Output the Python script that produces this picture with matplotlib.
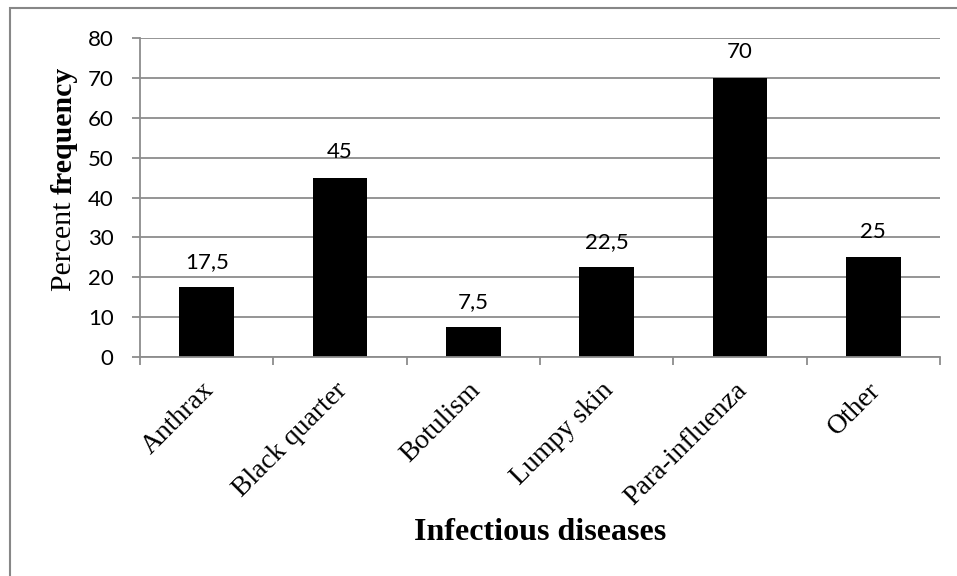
import matplotlib
matplotlib.use("Agg")
import matplotlib.pyplot as plt
from matplotlib.patches import Rectangle

categories = ["Anthrax", "Black quarter", "Botulism", "Lumpy skin", "Para-influenza", "Other"]
values = [17.5, 45, 7.5, 22.5, 70, 25]
value_labels = ["17,5", "45", "7,5", "22,5", "70", "25"]
yticks = [0, 10, 20, 30, 40, 50, 60, 70, 80]

W, H = 957, 576
fig = plt.figure(figsize=(W / 100, H / 100), dpi=100)
fig.patch.set_facecolor("white")

# outer chart frame
frame = Rectangle((10 / W, -0.05), 1.2, (576 - 8) / H + 0.05, transform=fig.transFigure,
                  fill=False, edgecolor="#878787", linewidth=1.5)
fig.patches.append(frame)

ax = fig.add_axes([140 / W, 1 - 357 / H, 800 / W, (357 - 38) / H])
grid_c = "#8c8c8c"
x = list(range(len(categories)))
ax.bar(x, values, width=0.41, color="black", zorder=3)
ax.set_xlim(-0.5, len(categories) - 0.5)
ax.set_ylim(0, 80)
ax.set_yticks(yticks)
ax.yaxis.grid(True, color=grid_c, linewidth=1.3, zorder=0)
for s in ["top", "right"]:
    ax.spines[s].set_visible(False)
for s in ["left", "bottom"]:
    ax.spines[s].set_color(grid_c)
    ax.spines[s].set_linewidth(1.3)
    ax.spines[s].set_zorder(4)

tick_font = "Lato"
ax.tick_params(axis="y", length=6, width=1.3, color=grid_c, labelsize=16, pad=13)
for lab in ax.get_yticklabels():
    lab.set_fontfamily(tick_font)

ax.set_xticks([i - 0.5 for i in range(len(categories) + 1)])
ax.set_xticklabels([])
ax.tick_params(axis="x", length=6, width=1.3, color=grid_c)
for i, c in enumerate(categories):
    ax.annotate(c, xy=(i, 0), xycoords=("data", "data"), xytext=(-4, -15),
                textcoords="offset points", rotation=45, ha="right", va="top",
                rotation_mode="anchor", fontsize=20, family="Liberation Serif")

for i, (v, lbl) in enumerate(zip(values, value_labels)):
    ax.annotate(lbl, xy=(i, v), xytext=(0, 14), textcoords="offset points",
                ha="center", va="baseline", fontsize=16, family=tick_font)

fig.text(540 / W, 1 - 532 / H, "Infectious diseases", ha="center", va="center",
         fontsize=23, fontweight="bold", family="Liberation Serif")

# y label with mixed weight
fig.canvas.draw()
r = fig.canvas.get_renderer()
t1 = fig.text(64 / W, 1 - 291 / H, "Percent ", rotation=90, ha="center", va="bottom",
              fontsize=21.5, family="Liberation Serif")
bb = t1.get_window_extent(renderer=r)
fig.text(64 / W, bb.y1 / H, "frequency", rotation=90, ha="center", va="bottom",
         fontsize=21.5, fontweight="bold", family="Liberation Serif")

fig.savefig("out.png", dpi=100)
